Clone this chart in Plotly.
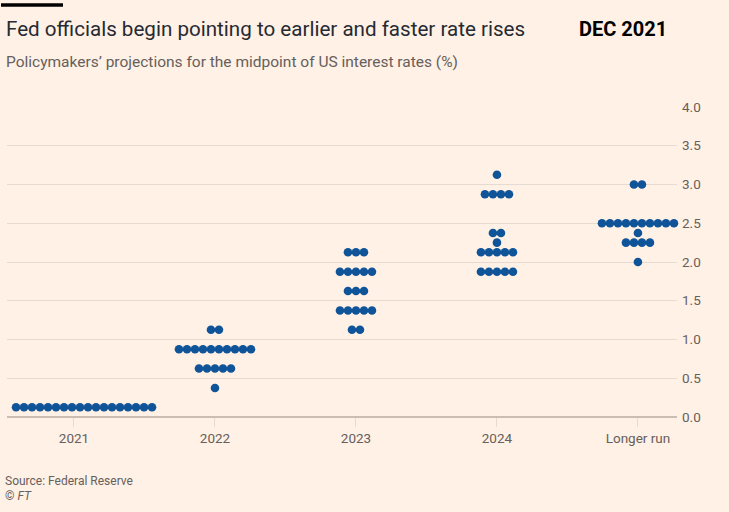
import plotly.graph_objects as go

# ---- data ----
categories = ["2021", "2022", "2023", "2024", "Longer run"]
# (rate, number of dots) per category
dots_2021 = [(0.125, 18)]
dots_2022 = [(1.125, 2), (0.875, 10), (0.625, 5), (0.375, 1)]
dots_2023 = [(2.125, 3), (1.875, 5), (1.625, 3), (1.375, 5), (1.125, 2)]
dots_2024 = [(3.125, 1), (2.875, 4), (2.375, 2), (2.25, 1), (2.125, 5), (1.875, 5)]
dots_longer = [(3.0, 2), (2.5, 10), (2.375, 1), (2.25, 4), (2.0, 1)]
all_dots = [dots_2021, dots_2022, dots_2023, dots_2024, dots_longer]
y_ticks = [0.0, 0.5, 1.0, 1.5, 2.0, 2.5, 3.0, 3.5, 4.0]

# ---- layout constants ----
W, H = 729, 512
ml, mr, mt, mb = 7, 52, 107, 95
PW, PH = W - ml - mr, H - mt - mb
x_range = [-0.475, 4.277]
dot_step = 8.0 / 141.0           # horizontal distance between dot centres in axis units
left_limit = x_range[0] + 0.064  # keep dots inside the plot

BG = "#FFF1E5"
BLUE = "#0F5499"
GRID = "#E7DAD0"
TEXT = "#66605C"


def px_x(p):
    return (p - ml) / PW


def px_y(p):
    return (H - mb - p) / PH


xs, ys = [], []
for ci, rows in enumerate(all_dots):
    for rate, n in rows:
        offs = [(j - (n - 1) / 2) * dot_step for j in range(n)]
        pos = [ci + o for o in offs]
        shift = max(0.0, left_limit - min(pos))
        xs.extend(p + shift for p in pos)
        ys.extend([rate] * n)

fig = go.Figure()
fig.add_trace(go.Scatter(
    x=xs, y=ys, mode="markers",
    marker=dict(size=8.6, color=BLUE, line=dict(width=0)),
    hoverinfo="skip", showlegend=False, cliponaxis=False,
))

fig.update_layout(
    width=W, height=H,
    margin=dict(l=ml, r=mr, t=mt, b=mb),
    paper_bgcolor=BG, plot_bgcolor=BG,
    font=dict(family="Roboto", color=TEXT, size=13),
    xaxis=dict(
        range=x_range, tickmode="array",
        tickvals=list(range(len(categories))), ticktext=categories,
        showgrid=False, zeroline=False,
        showline=False,
        ticks="outside", ticklen=9, tickcolor=GRID, tickwidth=1,
        tickfont=dict(size=13.5, color=TEXT),
        fixedrange=True,
    ),
    yaxis=dict(
        range=[0, 4.0], side="right",
        tickmode="array", tickvals=y_ticks,
        ticktext=[f"{v:.1f}" for v in y_ticks],
        showgrid=True, gridcolor=GRID, gridwidth=1,
        zeroline=True, zerolinecolor="#CABEB3", zerolinewidth=1.2,
        showline=False, ticks="", ticklabelstandoff=4,
        tickfont=dict(size=13.5, color=TEXT),
        fixedrange=True,
    ),
    shapes=[dict(type="rect", xref="paper", yref="paper",
                 x0=px_x(1), x1=px_x(63), y0=px_y(6.7), y1=px_y(3.3),
                 fillcolor="#000000", line=dict(width=0))],
    annotations=[
        dict(text="Fed officials begin pointing to earlier and faster rate rises",
             xref="paper", yref="paper", x=px_x(4), y=px_y(28.5),
             xanchor="left", yanchor="middle",
             showarrow=False, font=dict(size=20.6, color="#262A33", family="Roboto")),
        dict(text="<b>DEC 2021</b>",
             xref="paper", yref="paper", x=px_x(669), y=px_y(28.5),
             xanchor="right", yanchor="middle",
             showarrow=False, font=dict(size=20, color="#000000", family="Roboto")),
        dict(text="Policymakers’ projections for the midpoint of US interest rates (%)",
             xref="paper", yref="paper", x=px_x(4), y=px_y(62),
             xanchor="left", yanchor="middle",
             showarrow=False, font=dict(size=15.5, color=TEXT, family="Roboto")),
        dict(text="Source: Federal Reserve",
             xref="paper", yref="paper", x=px_x(3), y=px_y(481),
             xanchor="left", yanchor="middle",
             showarrow=False, font=dict(size=12, color=TEXT, family="Roboto")),
        dict(text="© <i>FT</i>",
             xref="paper", yref="paper", x=px_x(3), y=px_y(496),
             xanchor="left", yanchor="middle",
             showarrow=False, font=dict(size=12, color=TEXT, family="Roboto")),
    ],
)

fig.write_html(
    "out.html",
    config={"displayModeBar": False, "staticPlot": True},
    post_script="document.body.style.margin='0';document.body.style.background='#FFF1E5';",
)
